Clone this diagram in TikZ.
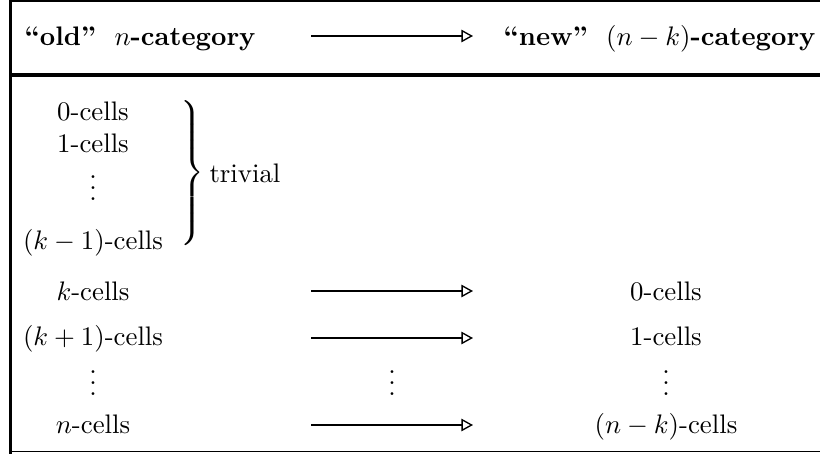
\documentclass[tikz,border=0pt]{standalone}
\usetikzlibrary{arrows.meta}
\begin{document}
\begin{tikzpicture}[x=0.3731pt,y=-0.3731pt,
  cell/.style={inner sep=0pt, anchor=base},
  hdr/.style={inner sep=0pt},
  maparrow/.style={line width=0.85pt, -{Triangle[open, length=4.3pt, width=4.6pt, line width=0.5pt]}},
  thinrule/.style={line width=0.6pt},
  thickrule/.style={line width=1.4pt},
]
\useasboundingbox (0,0) rectangle (820,454);
% frame
\coordinate (tl) at (10.5,0);
\coordinate (bl) at (10.5,454);
\coordinate (t0) at (10.5,0.8);
\coordinate (t1) at (820,0.8);
\coordinate (m0) at (10.5,75.3);
\coordinate (m1) at (820,75.3);
\coordinate (b0) at (10.5,451.5);
\coordinate (b1) at (820,451.5);
\draw[thickrule] (tl) -- (bl);
\draw[thinrule] (t0) -- (t1);
\draw[thickrule] (m0) -- (m1);
\draw[thinrule] (b0) -- (b1);
% header
\node[hdr, anchor=base west] (hold) at (24,46) {\textbf{``old''\hspace{0.3em} $n$-category}};
\node[hdr, anchor=base east] (hnew) at (816,46) {\textbf{``new''\hspace{0.3em} $(n-k)$-category}};
\coordinate (ha0) at (311,36);
\coordinate (ha1) at (473,36);
\draw[maparrow] (ha0) -- (ha1);
% trivial block
\node[cell] (c0) at (93,121) {0-cells};
\node[cell] (c1) at (93,152) {1-cells};
\node[cell] (cd) at (93,200) {$\vdots$};
\node[cell] (ck1) at (93,249) {$(k-1)$-cells};
\node[inner sep=0pt] (brace) at (191,175) {$\left.\vrule height 26pt depth 26pt width 0pt\right\}$};
\node[cell, anchor=base west] (triv) at (209,182) {trivial};
% mapping rows
\node[cell] (lk) at (93,300) {$k$-cells};
\node[cell] (lk1) at (93,345) {$(k+1)$-cells};
\node[cell] (ld) at (93,395) {$\vdots$};
\node[cell] (ln) at (93,433) {$n$-cells};
\node[cell] (r0) at (666,300) {0-cells};
\node[cell] (r1) at (666,345) {1-cells};
\node[cell] (rd) at (666,395) {$\vdots$};
\node[cell] (rn) at (666,433) {$(n-k)$-cells};
\node[cell] (md) at (392,395) {$\vdots$};
\coordinate (a1s) at (311,291);
\coordinate (a1e) at (473,291);
\coordinate (a2s) at (311,338);
\coordinate (a2e) at (473,338);
\coordinate (a3s) at (311,425);
\coordinate (a3e) at (473,425);
\draw[maparrow] (a1s) -- (a1e);
\draw[maparrow] (a2s) -- (a2e);
\draw[maparrow] (a3s) -- (a3e);
\end{tikzpicture}
\end{document}
